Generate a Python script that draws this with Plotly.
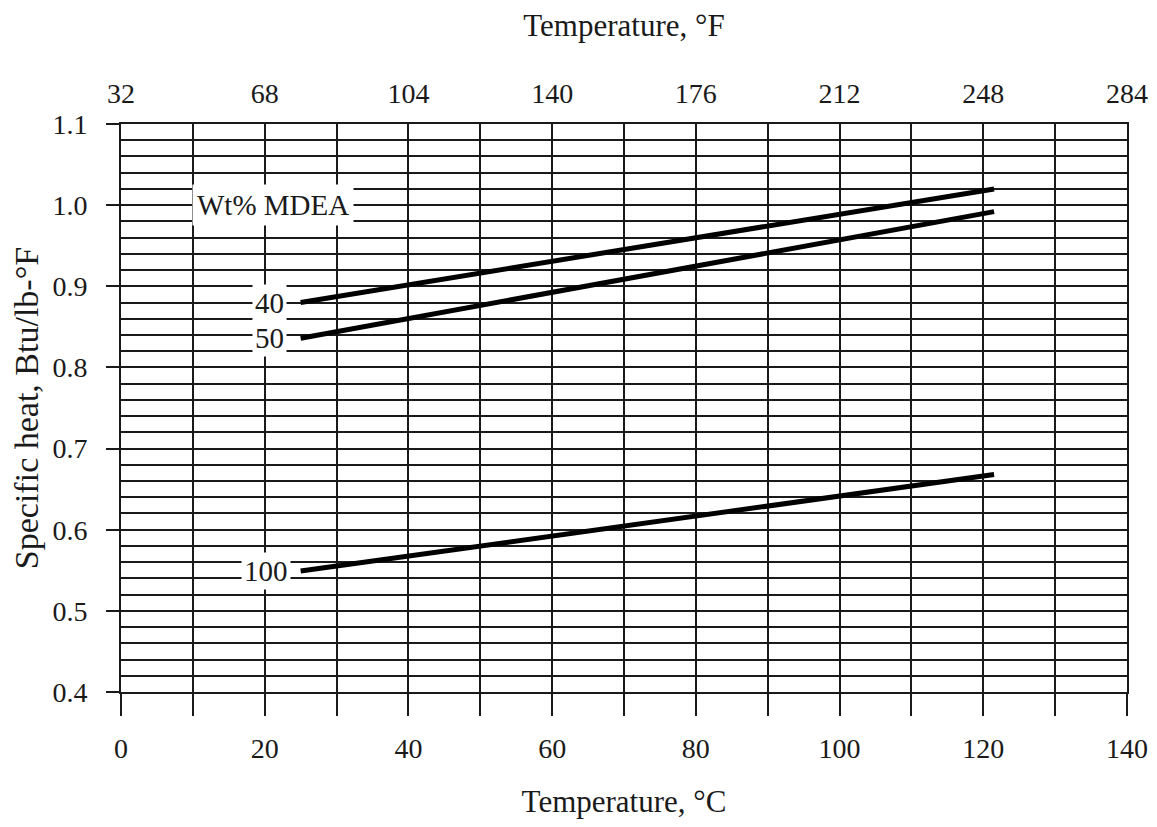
import plotly.graph_objects as go

# Data
temp_c = [25, 121.5]
series_names = ["40", "50", "100"]
cp_40 = [0.880, 1.020]
cp_50 = [0.836, 0.992]
cp_100 = [0.549, 0.668]
series_values = [cp_40, cp_50, cp_100]

x_ticks_c = [0, 20, 40, 60, 80, 100, 120, 140]
x_ticks_f = [32, 68, 104, 140, 176, 212, 248, 284]
y_ticks = [0.4, 0.5, 0.6, 0.7, 0.8, 0.9, 1.0, 1.1]

serif = "Liberation Serif"
ink = "#1a1a1a"

fig = go.Figure()
for name, vals in zip(series_names, series_values):
    fig.add_trace(go.Scatter(x=temp_c, y=vals, mode="lines", name=name,
                             line=dict(color="black", width=5),
                             showlegend=False, hoverinfo="skip"))

# invisible trace to activate the top (°F) axis
fig.add_trace(go.Scatter(x=[32 + 1.8 * t for t in temp_c], y=cp_40, xaxis="x2",
                         mode="lines", line=dict(width=0), opacity=0,
                         showlegend=False, hoverinfo="skip"))

# Labels with white boxes
label_font = dict(family=serif, size=29, color=ink)
fig.add_annotation(x=21.1, y=1.0, text="Wt% MDEA", showarrow=False,
                   bgcolor="white", font=label_font, borderpad=4)
for name, vals, xoff in zip(series_names, series_values, [20.6, 20.6, 20.2]):
    fig.add_annotation(x=xoff, y=vals[0], text=name, showarrow=False,
                       bgcolor="white", font=label_font, borderpad=2)

tick_font = dict(family=serif, size=28, color=ink)

fig.update_layout(
    width=1157, height=827,
    margin=dict(l=113, r=38, t=116, b=143),
    plot_bgcolor="white", paper_bgcolor="white",
    font=dict(family=serif, color=ink),
    xaxis=dict(
        range=[0, 140], tickvals=x_ticks_c, ticktext=[str(v) for v in x_ticks_c],
        showgrid=True, gridcolor=ink, gridwidth=2,
        ticks="outside", ticklen=22, tickwidth=2, tickcolor=ink,
        minor=dict(dtick=10, tick0=0, showgrid=True, gridcolor=ink, gridwidth=2,
                   ticks="outside", ticklen=22, tickwidth=2, tickcolor=ink),
        showline=True, linecolor=ink, linewidth=2, mirror=True,
        zeroline=False,
        tickfont=tick_font,
        ticklabelstandoff=8,
        title=dict(text="Temperature, °C", font=dict(family=serif, size=31, color=ink),
                   standoff=28),
    ),
    xaxis2=dict(
        overlaying="x", side="top", range=[32, 284],
        tickvals=x_ticks_f, ticktext=[str(v) for v in x_ticks_f],
        showgrid=False, ticks="", zeroline=False, showline=False,
        tickfont=tick_font,
        ticklabelstandoff=14,
        title=dict(text="Temperature, °F", font=dict(family=serif, size=31, color=ink),
                   standoff=34),
    ),
    yaxis=dict(
        range=[0.4, 1.1], tickvals=y_ticks, ticktext=[f"{v:.1f}" for v in y_ticks],
        showgrid=True, gridcolor=ink, gridwidth=2,
        ticks="outside", ticklen=13, tickwidth=2, tickcolor=ink,
        minor=dict(dtick=0.02, tick0=0.4, showgrid=True, gridcolor=ink, gridwidth=2,
                   ticks=""),
        showline=True, linecolor=ink, linewidth=2, mirror=True,
        zeroline=False,
        tickfont=tick_font,
        ticklabelstandoff=13,
        title=dict(text="Specific heat, Btu/lb-°F",
                   font=dict(family=serif, size=34, color=ink),
                   standoff=10),
    ),
)

fig.write_html("out.html")
